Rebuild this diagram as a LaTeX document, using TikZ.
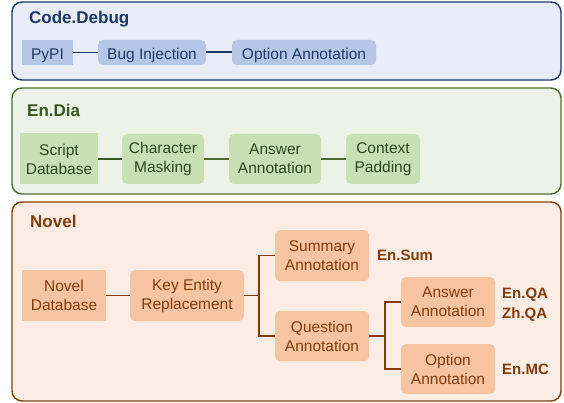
\documentclass[tikz,border=0pt]{standalone}
\usepackage{fontspec}
\setmainfont{Liberation Sans}
\begin{document}
\begin{tikzpicture}[x=1pt,y=-1pt,
  panel/.style={rounded corners=10pt,line width=1.4pt},
  title/.style={anchor=base west,font=\fontsize{17}{20}\selectfont\bfseries,inner sep=0pt},
  tag/.style={anchor=base west,font=\fontsize{15}{19}\selectfont\bfseries,inner sep=0pt},
  stage/.style={draw=none,rounded corners=5pt,align=center,inner sep=0pt,
    font=\fontsize{15.5}{19}\selectfont},
  source/.style={stage,rounded corners=0pt},
  % single-line boxes: sit the text a little low, as in a strip of buttons
  oneline/.style={text height=14pt,text depth=0pt},
  link/.style={line width=1.1pt},
  thick link/.style={line width=2pt},
]
\definecolor{bluepanel}{HTML}{E7ECF6}
\definecolor{blueedge}{HTML}{1F3864}
\definecolor{bluenode}{HTML}{B4C7E7}
\definecolor{greenpanel}{HTML}{EBF3E6}
\definecolor{greenedge}{HTML}{4E6B35}
\definecolor{greennode}{HTML}{C8E0B4}
\definecolor{greentext}{HTML}{385723}
\definecolor{orangepanel}{HTML}{FBEDE4}
\definecolor{orangeedge}{HTML}{843C0C}
\definecolor{orangenode}{HTML}{F6C4A0}
\definecolor{orangetext}{HTML}{843C0C}

\useasboundingbox (0,0) rectangle (564,403);

% ---- Code.Debug ----
\draw[panel,draw=blueedge,fill=bluepanel] (12,2) rectangle (561,80);
\node[title,text=blueedge] (cdtitle) at (29,23.5) {Code.Debug};
\node[source,oneline,fill=bluenode,text=blueedge,minimum width=51pt,minimum height=25pt] (pypi) at (47.5,52.5) {PyPI};
\node[stage,oneline,fill=bluenode,text=blueedge,minimum width=108pt,minimum height=25pt] (bug) at (152,52.5) {Bug Injection};
\node[stage,oneline,fill=bluenode,text=blueedge,minimum width=144pt,minimum height=25pt] (opt) at (304,52.5) {Option Annotation};
\draw[link,blueedge] (pypi) -- (bug);
\draw[thick link,blueedge] (bug) -- (opt);

% ---- En.Dia ----
\draw[panel,draw=greenedge,fill=greenpanel] (12,88) rectangle (561,194);
\node[title,text=greentext] (edtitle) at (27,116.5) {En.Dia};
\node[source,fill=greennode,text=greentext!80!black,minimum width=78pt,minimum height=51pt] (script) at (59,159) {Script\\Database};
\node[stage,fill=greennode,text=greentext!80!black,minimum width=82pt,minimum height=50pt] (mask) at (163,159) {Character\\Masking};
\node[stage,fill=greennode,text=greentext!80!black,minimum width=92pt,minimum height=50pt] (ans) at (275,159) {Answer\\Annotation};
\node[stage,fill=greennode,text=greentext!80!black,minimum width=74pt,minimum height=50pt] (pad) at (383,159) {Context\\Padding};
\draw[thick link,greentext] (script) -- (mask);
\draw[link,greenedge] (mask) -- (ans);
\draw[link,greenedge] (ans) -- (pad);

% ---- Novel ----
\draw[panel,draw=orangeedge,fill=orangepanel] (12,202) rectangle (561,401);
\node[title,text=orangetext] (nvtitle) at (30,228) {Novel};
\node[source,fill=orangenode,text=orangetext,minimum width=84pt,minimum height=51pt] (ndb) at (64,295.5) {Novel\\Database};
\node[stage,fill=orangenode,text=orangetext,minimum width=114pt,minimum height=51pt] (key) at (187,295.5) {Key Entity\\Replacement};
\node[stage,fill=orangenode,text=orangetext,minimum width=94pt,minimum height=51pt] (sum) at (322,255.5) {Summary\\Annotation};
\node[stage,fill=orangenode,text=orangetext,minimum width=94pt,minimum height=50pt] (qst) at (322,336) {Question\\Annotation};
\node[stage,fill=orangenode,text=orangetext,minimum width=94pt,minimum height=50pt] (nans) at (448,302) {Answer\\Annotation};
\node[stage,fill=orangenode,text=orangetext,minimum width=94pt,minimum height=50pt] (nopt) at (448,369) {Option\\Annotation};

\coordinate (fork1) at (259,295.5);
\coordinate (fork2) at (385,336);
\draw[link,orangeedge] (ndb) -- (key);
\draw[link,orangeedge] (key.east) -- (fork1);
\draw[link,orangeedge] (sum.west) -| (fork1) |- (qst.west);
\draw[link,orangeedge] (qst.east) -- (fork2);
\draw[link,orangeedge] (nans.west) -| (fork2) |- (nopt.west);

\node[tag,text=orangetext] (ensum) at (377,260.5) {En.Sum};
\node[tag,text=orangetext] (enqa) at (502,298.5) {En.QA};
\node[tag,text=orangetext] (zhqa) at (502,318) {Zh.QA};
\node[tag,text=orangetext] (enmc) at (502,374.5) {En.MC};
\end{tikzpicture}
\end{document}
